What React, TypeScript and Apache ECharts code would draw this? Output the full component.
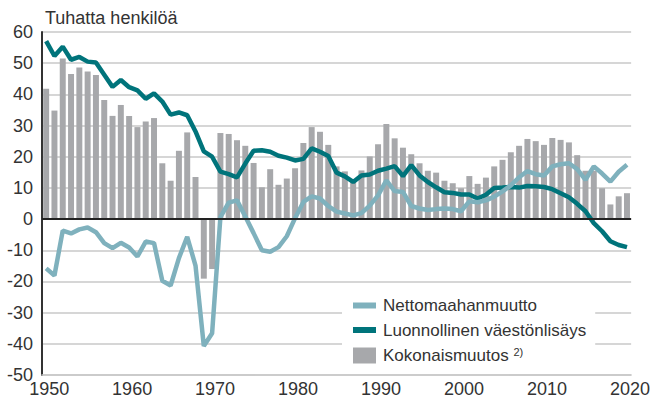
import React, { useEffect, useRef } from "react";
import * as echarts from "echarts";

const years: string[] = Array.from({ length: 71 }, (_, i) => String(1950 + i));

// Kokonaismuutos (total change), thousands
const totalChange: number[] = [
  41.8, 34.8, 51.5, 46.5, 48.6, 47.3, 46.2, 38.2, 33.1, 36.6,
  33.1, 29.5, 31.3, 32.4, 17.9, 12.3, 21.9, 27.8, 13.5, -19.1,
  -16.0, 27.6, 27.3, 25.3, 23.5, 18.0, 10.2, 16.0, 11.0, 13.0,
  16.3, 24.4, 29.5, 28.0, 23.8, 16.9, 15.3, 12.6, 15.6, 20.1,
  24.0, 30.5, 25.9, 22.9, 20.8, 17.9, 15.5, 14.9, 12.3, 11.5,
  9.9, 13.8, 11.3, 13.3, 16.9, 19.0, 21.4, 23.5, 25.7, 25.0,
  23.8, 26.0, 25.4, 24.6, 20.5, 15.5, 15.5, 9.9, 4.7, 7.3,
  8.3,
];

// Luonnollinen väestönlisäys (natural increase)
const naturalIncrease: number[] = [
  57.1, 52.3, 55.3, 51.1, 52.0, 50.5, 50.2, 46.3, 42.4, 44.6,
  42.3, 41.3, 38.6, 40.3, 37.7, 33.5, 34.2, 33.3, 28.1, 21.7,
  20.0, 15.2, 14.4, 13.4, 17.8, 21.9, 22.1, 21.6, 20.3, 19.7,
  18.8, 19.3, 22.7, 21.6, 20.2, 14.9, 13.7, 11.9, 14.0, 14.3,
  15.5, 16.2, 17.0, 13.8, 17.3, 14.0, 11.9, 10.2, 8.6, 8.4,
  7.9, 7.9, 6.6, 7.8, 10.0, 10.1, 10.3, 10.1, 10.6, 10.5,
  10.3, 9.6, 8.3, 7.0, 4.9, 2.5, -1.3, -3.9, -7.1, -8.3,
  -9.0,
];

// Nettomaahanmuutto (net immigration)
const netImmigration: number[] = [
  -15.8, -18.1, -3.7, -4.6, -3.3, -2.7, -4.2, -7.7, -9.3, -7.6,
  -9.1, -12.0, -7.2, -7.7, -19.8, -21.3, -12.5, -5.7, -14.9, -40.7,
  -36.6, 0.6, 5.3, 6.0, 0.8, -4.5, -10.0, -10.5, -9.0, -5.5,
  0.3, 5.5, 7.3, 6.6, 4.2, 2.4, 1.8, 1.2, 1.9, 4.3,
  7.6, 12.4, 9.0, 8.7, 4.2, 3.4, 2.9, 3.2, 3.4, 3.2,
  2.5, 5.7, 5.4, 6.0, 7.2, 8.9, 10.8, 13.4, 15.4, 14.4,
  14.0, 16.9, 17.6, 17.9, 16.0, 12.6, 16.9, 14.6, 12.0, 15.2,
  17.4,
];

const FONT = "Liberation Sans";
const TEXT = "#333333";
const DARK = "#00747b";
const LIGHT = "#7fb1bd";
const BAR = "#a7a8ab";
const GRID = "#c8c8c8";
const lineIcon = "path://M0,0 L23,0 L23,6 L0,6 Z";

export default function App() {
  const ref = useRef<HTMLDivElement>(null);
  useEffect(() => {
    if (!ref.current) return;
    document.body.style.margin = "0";
    const chart = echarts.init(ref.current, undefined, { renderer: "svg" });
    chart.setOption({
      animation: false,
      textStyle: { fontFamily: FONT },
      title: {
        text: "Tuhatta henkilöä",
        left: 40,
        top: 4,
        textStyle: { fontFamily: FONT, fontSize: 18, fontWeight: "normal", color: TEXT },
      },
      grid: { left: 42, right: 21, top: 32, bottom: 25, containLabel: false },
      legend: {
        orient: "vertical",
        left: 342,
        top: 292,
        padding: [5, 9, 5, 11],
        backgroundColor: "#ffffff",
        itemWidth: 23,
        itemHeight: 16,
        itemGap: 7.5,
        textStyle: {
          fontFamily: FONT,
          fontSize: 17,
          color: TEXT,
          padding: [0, 0, 0, 2],
          rich: { sup: { fontFamily: FONT, fontSize: 11, color: TEXT, padding: [0, 0, 8, 0] } },
        },
        formatter: (name: string) => (name === "Kokonaismuutos" ? "Kokonaismuutos {sup|2)}" : name),
        data: [
          { name: "Nettomaahanmuutto", icon: lineIcon, itemStyle: { color: LIGHT, borderWidth: 0 } },
          { name: "Luonnollinen väestönlisäys", icon: lineIcon, itemStyle: { color: DARK, borderWidth: 0 } },
          { name: "Kokonaismuutos", icon: "rect", itemStyle: { color: BAR, borderWidth: 0 } },
        ],
      },
      xAxis: {
        type: "category",
        data: years,
        boundaryGap: true,
        axisLine: { show: true, onZero: false, lineStyle: { color: GRID, width: 1.5 } },
        axisTick: { show: false },
        axisLabel: {
          interval: 9,
          fontFamily: FONT,
          fontSize: 18,
          color: TEXT,
          margin: 5,
          padding: [0, 0, 0, 6],
        },
        splitLine: { show: false },
      },
      yAxis: {
        type: "value",
        min: -50,
        max: 60,
        interval: 10,
        axisLine: { show: true, lineStyle: { color: TEXT, width: 2 } },
        axisTick: { show: false },
        axisLabel: { fontFamily: FONT, fontSize: 18, color: TEXT, margin: 9 },
        splitLine: { show: true, lineStyle: { color: GRID, width: 1.5 } },
      },
      series: [
        {
          name: "Kokonaismuutos",
          type: "bar",
          data: totalChange,
          barWidth: "72%",
          itemStyle: { color: BAR },
          markLine: {
            silent: true,
            symbol: ["none", "none"],
            label: { show: false },
            lineStyle: { color: "#222222", width: 2, type: "solid" },
            data: [{ yAxis: 0 }],
          },
        },
        {
          name: "Luonnollinen väestönlisäys",
          type: "line",
          data: naturalIncrease,
          symbol: "none",
          lineStyle: { color: DARK, width: 4.5 },
          itemStyle: { color: DARK },
          z: 3,
        },
        {
          name: "Nettomaahanmuutto",
          type: "line",
          data: netImmigration,
          symbol: "none",
          lineStyle: { color: LIGHT, width: 4.5 },
          itemStyle: { color: LIGHT },
          z: 4,
        },
      ],
    });
    return () => chart.dispose();
  }, []);
  return <div ref={ref} style={{ width: 653, height: 400 }} />;
}
